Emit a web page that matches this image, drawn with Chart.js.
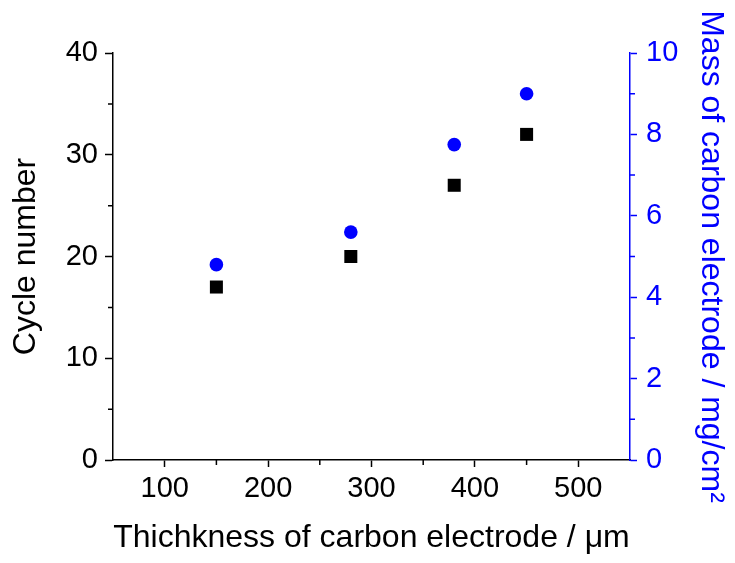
<!DOCTYPE html>
<html>
<head>
<meta charset="utf-8">
<script src="https://cdn.jsdelivr.net/npm/chart.js@4"></script>
<style>
  html, body { margin: 0; padding: 0; background: #ffffff; }
  #c { display: block; }
</style>
</head>
<body>
<canvas id="c" width="735" height="563"></canvas>
<script>
// ---- data ----
const thickness = [150, 280, 380, 450];          // µm
const cycleNumber = [17, 20, 27, 32];
const carbonMass = [4.8, 5.6, 7.75, 9.0];        // mg/cm²
const xTickValues = [100, 200, 300, 400, 500];
const xMinorValues = [150, 250, 350, 450];
const yLeftMinorValues = [5, 15, 25, 35];
const yRightMinorValues = [1, 3, 5, 7, 9];
const xTitle = 'Thichkness of carbon electrode / \u03bcm';
const yLeftTitle = 'Cycle number';
const yRightTitle = 'Mass of carbon electrode / mg/cm\u00b2';

const BLUE = '#0000ff';
const BLACK = '#000000';
const FONT = '"Liberation Sans", Arial, sans-serif';

const minorTicks = {
  id: 'minorTicks',
  afterDraw(chart) {
    const ctx = chart.ctx;
    const sx = chart.scales.x, yl = chart.scales.y, yr = chart.scales.y2;
    ctx.save();
    ctx.lineWidth = 1.5;
    ctx.strokeStyle = BLACK;
    ctx.beginPath();
    xMinorValues.forEach(v => {
      const p = sx.getPixelForValue(v);
      ctx.moveTo(p, sx.top); ctx.lineTo(p, sx.top + 5);
    });
    yLeftMinorValues.forEach(v => {
      const p = yl.getPixelForValue(v);
      ctx.moveTo(yl.right, p); ctx.lineTo(yl.right - 5, p);
    });
    ctx.stroke();
    ctx.strokeStyle = BLUE;
    ctx.beginPath();
    yRightMinorValues.forEach(v => {
      const p = yr.getPixelForValue(v);
      ctx.moveTo(yr.left, p); ctx.lineTo(yr.left + 5, p);
    });
    ctx.stroke();
    ctx.restore();
  }
};

new Chart(document.getElementById('c'), {
  type: 'scatter',
  data: {
    datasets: [
      {
        label: 'Cycle number',
        data: thickness.map((x, i) => ({ x, y: cycleNumber[i] })),
        yAxisID: 'y',
        pointStyle: 'rect',
        pointRadius: 9.2,
        pointHoverRadius: 9.2,
        backgroundColor: BLACK,
        borderColor: BLACK,
        borderWidth: 0
      },
      {
        label: 'Mass',
        data: thickness.map((x, i) => ({ x, y: carbonMass[i] })),
        yAxisID: 'y2',
        pointStyle: 'circle',
        pointRadius: 6.8,
        pointHoverRadius: 6.8,
        backgroundColor: BLUE,
        borderColor: BLUE,
        borderWidth: 0
      }
    ]
  },
  options: {
    responsive: false,
    animation: false,
    layout: { padding: { top: 53, left: 0, right: 0, bottom: 0 } },
    plugins: { legend: { display: false }, tooltip: { enabled: false } },
    scales: {
      x: {
        type: 'linear',
        position: 'bottom',
        min: 50, max: 550,
        afterBuildTicks: s => { s.ticks = xTickValues.map(v => ({ value: v })); },
        afterFit: s => { s.height = 103; },
        border: { display: true, color: BLACK, width: 1.5 },
        grid: { display: true, drawOnChartArea: false, drawTicks: true, tickLength: 7, tickColor: BLACK, tickWidth: 1.5 },
        ticks: { color: BLACK, font: { family: FONT, size: 29 }, padding: 5, autoSkip: false, maxRotation: 0 },
        title: { display: true, text: xTitle, color: BLACK, font: { family: FONT, size: 32 }, padding: { top: 0, bottom: 6 } }
      },
      y: {
        type: 'linear',
        position: 'left',
        min: 0, max: 40,
        ticks: { stepSize: 10, color: BLACK, font: { family: FONT, size: 29 }, padding: 7 },
        afterFit: s => { s.width = 113; },
        border: { display: true, color: BLACK, width: 1.5 },
        grid: { display: true, drawOnChartArea: false, drawTicks: true, tickLength: 8, tickColor: BLACK, tickWidth: 1.5 },
        title: { display: true, text: yLeftTitle, color: BLACK, font: { family: FONT, size: 32 }, padding: { top: 7, bottom: 0 } }
      },
      y2: {
        type: 'linear',
        position: 'right',
        min: 0, max: 10,
        ticks: { stepSize: 2, color: BLUE, font: { family: FONT, size: 29 }, padding: 9 },
        afterFit: s => { s.width = 105; },
        border: { display: true, color: BLUE, width: 1.5 },
        grid: { display: true, drawOnChartArea: false, drawTicks: true, tickLength: 7, tickColor: BLUE, tickWidth: 1.5 },
        title: { display: true, text: yRightTitle, color: BLUE, font: { family: FONT, size: 32 }, padding: { top: 5, bottom: 0 } }
      }
    }
  },
  plugins: [minorTicks]
});
</script>
</body>
</html>
